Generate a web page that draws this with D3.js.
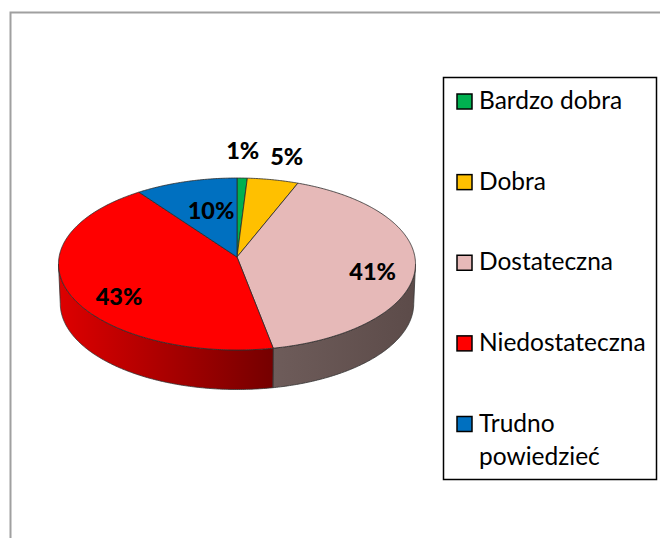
<!DOCTYPE html>
<html><head><meta charset="utf-8">
<script src="https://cdn.jsdelivr.net/npm/d3@7/dist/d3.min.js"></script>
<style>html,body{margin:0;padding:0;background:#fff}svg{display:block}text{font-family:Lato,"Open Sans",sans-serif}</style>
</head><body><svg id="c" width="660" height="538"></svg>
<script>
const categories = ["Bardzo dobra","Dobra","Dostateczna","Niedostateczna","Trudno powiedzieć"];
const values = [1,5,41,43,10];
const colors = ["#00B050","#FFC000","#E6B9B8","#FF0000","#0070C0"];
const wallFrom = [null,null,"#6E5C5A",  "#DE0000", null];
const wallTo   = [null,null,"#5C4B49",  "#750000", null];
const labelNudge = [[2,-50],[24,-46],[11,8],[-1,15],[10.5,7]];

const W=660,H=538, cx=237, apexY=257, rxC=177.9, topK=64.5, persp=0.0814, depth=39.5;
const svg=d3.select("#c");
const color=d3.scaleOrdinal(categories,colors);
const arcs=d3.pie().sort(null).value(d=>d)(values);

// projective mapping of a point on the tilted disc to the screen
function project(a,r=1,off=0,sc=1){
  const u=Math.sin(a)*r, v=Math.cos(a)*r, w=1+persp*v;
  return [cx+sc*rxC*u/w, (apexY-topK*v)/w+off];
}
function samples(a0,a1,r,off,sc){
  const n=Math.max(2,Math.ceil(Math.abs(a1-a0)/0.01));
  return d3.range(n+1).map(i=>project(a0+(a1-a0)*i/n,r,off,sc));
}
const line=d3.line();

// frame
svg.append("path").attr("d",`M10.5,${H}V12.5H${W}`).attr("fill","none").attr("stroke","#A0A0A0").attr("stroke-width",2);

const defs=svg.append("defs");
const aR=Math.PI/2+Math.asin(persp), aL=3*Math.PI/2-Math.asin(persp);
arcs.forEach((d,i)=>{
  const a0=Math.max(d.startAngle,aR), a1=Math.min(d.endAngle,aL);
  if(a1<=a0||!wallFrom[i])return;
  const top=samples(a0,a1,1,0,1), bot=samples(a1,a0,1,depth,0.99);
  const xs=top.concat(bot).map(p=>p[0]);
  const span=d3.extent(xs);
  // the wall darkens away from the seam on the pink part and towards it on the red part
  const g=defs.append("linearGradient").attr("id","w"+i).attr("gradientUnits","userSpaceOnUse")
    .attr("x1",span[0]).attr("x2",span[1]).attr("y1",0).attr("y2",0);
  g.append("stop").attr("offset",0).attr("stop-color",wallFrom[i]);
  g.append("stop").attr("offset",1).attr("stop-color",wallTo[i]);
  svg.append("path").attr("d",line(top.concat(bot))+"Z").attr("fill",`url(#w${i})`)
    .attr("stroke","#333").attr("stroke-width",0.8).attr("stroke-linejoin","round");
});

// top face
arcs.forEach((d,i)=>{
  const pts=[project(0,0)].concat(samples(d.startAngle,d.endAngle,1,0,1));
  svg.append("path").attr("d",line(pts)+"Z").attr("fill",color(categories[i]))
    .attr("stroke","#2b2b2b").attr("stroke-width",0.8).attr("stroke-linejoin","round");
});

// data labels
arcs.forEach((d,i)=>{
  const p=project((d.startAngle+d.endAngle)/2,0.7);
  svg.append("text").attr("x",p[0]+labelNudge[i][0]).attr("y",p[1]+labelNudge[i][1])
    .attr("text-anchor","middle").attr("dominant-baseline","central")
    .attr("font-size",23.5).attr("font-weight",900).attr("fill","#000").text(d.data+"%");
});

// legend
const lg=svg.append("g");
lg.append("rect").attr("x",443.5).attr("y",77.5).attr("width",213).attr("height",402)
  .attr("fill","#fff").attr("stroke","#000").attr("stroke-width",1.5);
const rowY=d3.scaleLinear().domain([0,categories.length-1]).range([101.5,424]);
categories.forEach((c,i)=>{
  const y=rowY(i);
  lg.append("rect").attr("x",457).attr("y",y-7.5).attr("width",15).attr("height",15)
    .attr("fill",color(c)).attr("stroke","#000").attr("stroke-width",1.5);
  const parts=c==="Trudno powiedzieć"?["Trudno","powiedzieć"]:[c];
  parts.forEach((t,j)=>{
    lg.append("text").attr("x",479).attr("y",y+7.5+j*33).attr("font-size",24.5).attr("fill","#000").text(t);
  });
});
</script></body></html>
